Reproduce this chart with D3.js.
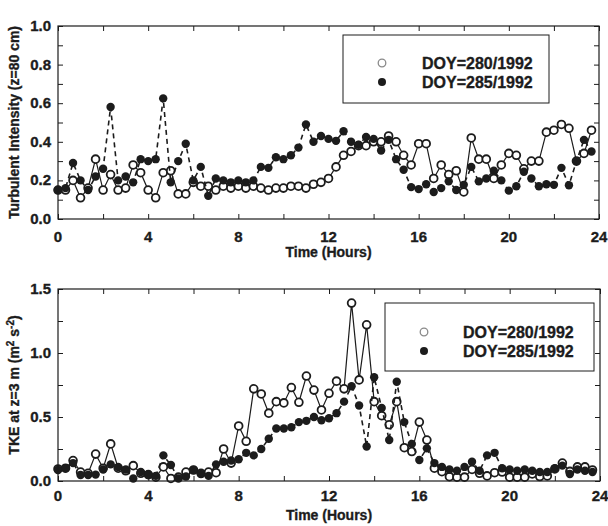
<!DOCTYPE html>
<html>
<head>
<meta charset="utf-8">
<script src="https://cdn.jsdelivr.net/npm/d3@7"></script>
<style>
  html, body { margin: 0; padding: 0; background: #fff; }
  svg { display: block; }
  text { font-family: "Liberation Sans", Arial, Helvetica, sans-serif; font-weight: bold; fill: #1c1c1c; stroke: #1c1c1c; stroke-width: 0.35px; }
</style>
</head>
<body>
<svg id="chart" width="608" height="526"></svg>
<script>
// Sampling grid: one value every 20 minutes over the day
const sampleCount = 72;
const stepHours = 1 / 3;

const xTickLabels = ["0", "4", "8", "12", "16", "20", "24"];
const seriesNames = ["DOY=280/1992", "DOY=285/1992"];

// Turbulent intensity at z = 80 cm
const intensity280 = [
  0.15, 0.15, 0.20, 0.11, 0.16, 0.31, 0.15, 0.23, 0.15, 0.16,
  0.28, 0.24, 0.15, 0.11, 0.24, 0.25, 0.13, 0.13, 0.19, 0.17,
  0.17, 0.15, 0.17, 0.16, 0.17, 0.16, 0.17, 0.16, 0.15, 0.16,
  0.16, 0.17, 0.17, 0.16, 0.18, 0.19, 0.21, 0.27, 0.33, 0.35,
  0.38, 0.38, 0.40, 0.40, 0.43, 0.40, 0.33, 0.28, 0.39, 0.39,
  0.21, 0.28, 0.23, 0.25, 0.14, 0.42, 0.31, 0.31, 0.21, 0.28,
  0.34, 0.33, 0.26, 0.30, 0.30, 0.45, 0.46, 0.49, 0.47, 0.30,
  0.34, 0.46
];
const intensity285 = [
  0.15, 0.16, 0.29, 0.20, 0.15, 0.22, 0.26, 0.58, 0.20, 0.22,
  0.19, 0.31, 0.30, 0.31, 0.625, 0.19, 0.30, 0.39, 0.20, 0.27,
  0.12, 0.21, 0.20, 0.19, 0.20, 0.19, 0.20, 0.27, 0.265, 0.32,
  0.31, 0.33, 0.37, 0.49, 0.40, 0.43, 0.415, 0.405, 0.455, 0.40,
  0.385, 0.425, 0.415, 0.355, 0.41, 0.31, 0.255, 0.165, 0.155, 0.18,
  0.14, 0.16, 0.195, 0.15, 0.177, 0.27, 0.195, 0.21, 0.25, 0.20,
  0.147, 0.17, 0.245, 0.21, 0.17, 0.18, 0.177, 0.265, 0.175, 0.30,
  0.41, 0.35
];

// Turbulent kinetic energy at z = 3 m (m2 s-2)
const tke280 = [
  0.094, 0.10, 0.16, 0.07, 0.06, 0.21, 0.10, 0.29, 0.10, 0.08,
  0.12, 0.06, 0.05, 0.03, 0.11, 0.02, 0.03, 0.07, 0.086, 0.06,
  0.07, 0.065, 0.25, 0.14, 0.43, 0.31, 0.72, 0.68, 0.53, 0.62,
  0.61, 0.73, 0.615, 0.82, 0.71, 0.555, 0.685, 0.78, 0.72, 1.39,
  0.79, 1.22, 0.62, 0.51, 0.44, 0.62, 0.26, 0.23, 0.46, 0.32,
  0.10, 0.073, 0.034, 0.03, 0.03, 0.09, 0.06, 0.04, 0.065, 0.07,
  0.03, 0.03, 0.03, 0.055, 0.035, 0.04, 0.094, 0.14, 0.075, 0.11,
  0.11, 0.086
];
const tke285 = [
  0.086, 0.10, 0.14, 0.047, 0.047, 0.05, 0.09, 0.13, 0.11, 0.09,
  0.02, 0.07, 0.047, 0.04, 0.20, 0.125, 0.02, 0.035, 0.086, 0.055,
  0.04, 0.13, 0.15, 0.16, 0.17, 0.22, 0.20, 0.25, 0.33, 0.41,
  0.41, 0.42, 0.46, 0.47, 0.50, 0.475, 0.49, 0.53, 0.62, 0.74,
  0.59, 0.27, 0.81, 0.57, 0.32, 0.775, 0.46, 0.29, 0.164, 0.255,
  0.14, 0.11, 0.09, 0.08, 0.11, 0.15, 0.08, 0.20, 0.22, 0.10,
  0.09, 0.08, 0.09, 0.08, 0.07, 0.07, 0.10, 0.12, 0.055, 0.09,
  0.08, 0.07
];

const hours = d3.range(sampleCount).map(i => i * stepHours);

const ink = "#1c1c1c";
const svg = d3.select("#chart");

function drawPanel(cfg) {
  const x = d3.scaleLinear().domain([0, 24]).range([cfg.left, cfg.right]);
  const y = d3.scaleLinear().domain(cfg.yDomain).range([cfg.bottom, cfg.top]);
  const g = svg.append("g");

  // tick marks pointing inward on all four sides
  const tickLen = 5;
  const xt = d3.range(0, 24.001, 2);
  const yt = d3.range(cfg.yDomain[0], cfg.yDomain[1] + 1e-6, cfg.minorStep);

  g.append("g").attr("transform", `translate(0,${cfg.bottom})`)
    .call(d3.axisBottom(x).tickValues(xt).tickSize(-tickLen).tickFormat(""))
    .call(a => a.select(".domain").remove());
  g.append("g").attr("transform", `translate(0,${cfg.top})`)
    .call(d3.axisTop(x).tickValues(xt).tickSize(-tickLen).tickFormat(""))
    .call(a => a.select(".domain").remove());
  g.append("g").attr("transform", `translate(${cfg.left},0)`)
    .call(d3.axisLeft(y).tickValues(yt).tickSize(-tickLen).tickFormat(""))
    .call(a => a.select(".domain").remove());
  g.append("g").attr("transform", `translate(${cfg.right},0)`)
    .call(d3.axisRight(y).tickValues(yt).tickSize(-tickLen).tickFormat(""))
    .call(a => a.select(".domain").remove());
  g.selectAll(".tick line").attr("stroke", ink).attr("stroke-width", 1);

  // tick labels
  g.selectAll(".xlab").data(xTickLabels).join("text")
    .attr("x", d => x(+d)).attr("y", cfg.bottom + cfg.xLabelGap)
    .attr("text-anchor", "middle").attr("font-size", 15).text(d => d);
  g.selectAll(".ylab").data(cfg.yLabels).join("text")
    .attr("x", cfg.left - 7).attr("y", d => y(+d) + 5)
    .attr("text-anchor", "end").attr("font-size", 15).text(d => d);

  // axis titles
  g.append("text").attr("x", x(12)).attr("y", cfg.bottom + cfg.xTitleGap)
    .attr("text-anchor", "middle").attr("font-size", 14).text("Time (Hours)");
  const yt2 = g.append("text")
    .attr("transform", `translate(${cfg.yTitleX},${(cfg.top + cfg.bottom) / 2}) rotate(-90)`)
    .attr("text-anchor", "middle").attr("font-size", 14);
  cfg.yTitle(yt2);

  // series
  const line = d3.line().x((d, i) => x(hours[i])).y(d => y(d));
  g.append("path").datum(cfg.open).attr("d", line)
    .attr("fill", "none").attr("stroke", ink).attr("stroke-width", 1.2);
  g.selectAll(".o").data(cfg.open).join("circle")
    .attr("cx", (d, i) => x(hours[i])).attr("cy", d => y(d)).attr("r", 3.9)
    .attr("fill", "#fff").attr("stroke", ink).attr("stroke-width", 1.8);

  g.append("path").datum(cfg.filled).attr("d", line)
    .attr("fill", "none").attr("stroke", ink).attr("stroke-width", 1.6)
    .attr("stroke-dasharray", "5,4");
  g.selectAll(".f").data(cfg.filled).join("circle")
    .attr("cx", (d, i) => x(hours[i])).attr("cy", d => y(d)).attr("r", 4.2)
    .attr("fill", ink);

  // frame
  g.append("rect").attr("x", cfg.left).attr("y", cfg.top)
    .attr("width", cfg.right - cfg.left).attr("height", cfg.bottom - cfg.top)
    .attr("fill", "none").attr("stroke", ink).attr("stroke-width", 1.2);

  // legend
  const L = cfg.legend;
  g.append("rect").attr("x", L.x).attr("y", L.y).attr("width", L.w).attr("height", L.h)
    .attr("fill", "#fff").attr("stroke", ink).attr("stroke-width", 1);
  seriesNames.forEach((name, k) => {
    const cy = L.y + L.row0 + k * 19;
    if (k === 0) {
      g.append("circle").attr("cx", L.mx).attr("cy", cy).attr("r", 3.8)
        .attr("fill", "#fff").attr("stroke", "#8a8a8a").attr("stroke-width", 1.3);
    } else {
      g.append("circle").attr("cx", L.mx).attr("cy", cy).attr("r", 4).attr("fill", ink);
    }
    g.append("text").attr("x", L.tx).attr("y", cy + 6).attr("font-size", 16).text(name);
  });
}

drawPanel({
  left: 58, right: 599, top: 26, bottom: 219,
  yDomain: [0, 1], minorStep: 0.1,
  yLabels: ["0.0", "0.2", "0.4", "0.6", "0.8", "1.0"],
  xLabelGap: 23, xTitleGap: 38, yTitleX: 19,
  yTitle: t => t.text("Turbulent Intensity (z=80 cm)"),
  open: intensity280, filled: intensity285,
  legend: { x: 343, y: 35, w: 206, h: 68, row0: 28, mx: 382, tx: 422 }
});

drawPanel({
  left: 58, right: 600, top: 289, bottom: 481,
  yDomain: [0, 1.5], minorStep: 0.25,
  yLabels: ["0.0", "0.5", "1.0", "1.5"],
  xLabelGap: 20, xTitleGap: 39, yTitleX: 19,
  yTitle: t => {
    t.append("tspan").text("TKE at z=3 m (m");
    t.append("tspan").attr("baseline-shift", "super").attr("font-size", 10).text("2");
    t.append("tspan").text(" s");
    t.append("tspan").attr("baseline-shift", "super").attr("font-size", 10).text("-2");
    t.append("tspan").text(")");
  },
  open: tke280, filled: tke285,
  legend: { x: 385, y: 303, w: 209, h: 68, row0: 29, mx: 424, tx: 463 }
});
</script>
</body>
</html>
